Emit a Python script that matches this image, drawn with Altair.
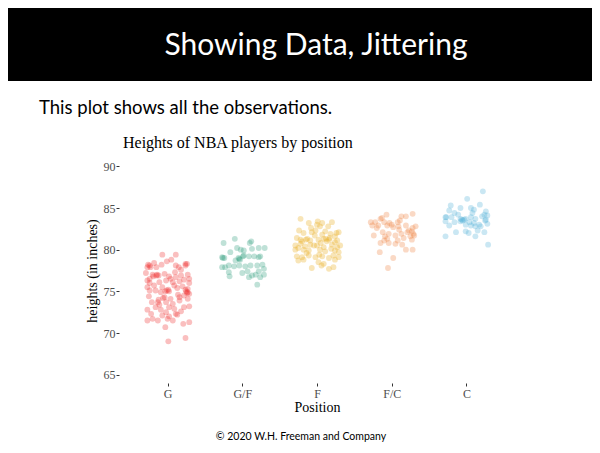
import altair as alt
import pandas as pd

positions = ["G", "G/F", "F", "F/C", "C"]
colors = ["#EE2A2A", "#2A9D7C", "#E8A814", "#EE8240", "#4FB0D8"]

g_off = [-0.07, 0.11, -0.24, -0.23, -0.15, -0.01, 0.05, -0.08, 0.11, 0.24, 0.24, 0.15, 0.18,
         -0.29, -0.14, -0.12, -0.19, -0.04, 0.02, 0.11, 0.18, 0.27, 0.29, -0.27, -0.24, -0.11,
         -0.02, 0.07, 0.16, 0.22, 0.29, -0.27, -0.18, -0.07, -0.01, 0.01, 0.09, 0.13, 0.24, 0.27,
         0.29, -0.24, -0.16, -0.09, -0.04, 0.04, 0.16, 0.22, -0.25, -0.21, -0.13, -0.11, -0.02,
         0.07, 0.16, 0.22, 0.29, 0.27, -0.16, -0.09, 0.02, 0.09, -0.27, -0.22, -0.07, 0.11, 0.13,
         0.02, -0.27, -0.20, -0.13, 0.00, 0.07, 0.21, 0.29, -0.03, 0.01, 0.24,
         -0.26, -0.27, -0.20, -0.15, 0.26, 0.25, 0.27, 0.26, -0.03, 0.02, -0.06, -0.24, 0.20,
         -0.12, 0.10, -0.18, 0.04, 0.14, -0.02, 0.18]
g_h = [79.4, 79.4, 78.1, 77.9, 77.9, 78.6, 78.8, 78.2, 78.1, 78.3, 78.1, 77.9, 77.6,
       77.2, 77.0, 76.9, 76.8, 77.1, 76.8, 76.7, 76.9, 77.0, 76.5, 76.3, 76.0, 76.1,
       76.3, 76.1, 76.2, 76.4, 76.0, 75.5, 75.7, 75.5, 75.1, 75.2, 75.7, 75.4, 75.2, 74.9,
       74.7, 75.1, 75.1, 74.9, 74.3, 74.1, 74.3, 74.5, 74.4, 73.7, 73.7, 73.4, 73.7,
       73.5, 73.9, 73.1, 73.2, 74.1, 73.1, 72.8, 73.1, 72.9, 72.8, 72.3, 72.1, 72.3, 72.2,
       72.0, 71.5, 71.7, 71.5, 71.7, 71.5, 71.1, 71.3, 70.7, 69.0, 69.4,
       78.2, 77.9, 77.0, 76.9, 78.3, 75.0, 75.3, 74.8, 75.0, 75.0, 74.2, 76.5, 75.6,
       74.0, 77.3, 78.4, 76.5, 74.6, 72.5, 72.6]

gf_off = [-0.10, -0.25, 0.12, 0.10, -0.07, -0.02, 0.02, 0.22, 0.30, -0.16, 0.13, -0.27, -0.24,
          0.01, -0.04, 0.09, 0.16, 0.22, 0.24, -0.09, -0.18, -0.23, -0.27, -0.11, -0.04, 0.04,
          0.11, 0.20, 0.27, 0.29, -0.18, -0.17, 0.00, 0.07, 0.13, 0.18, 0.22, 0.29, 0.24, 0.09,
          0.20, -0.26, -0.03, -0.05, 0.02]
gf_h = [81.3, 80.8, 81.0, 80.8, 80.2, 80.0, 79.9, 80.2, 80.2, 79.7, 80.1, 79.1, 79.0,
        79.2, 78.9, 79.2, 79.2, 79.1, 79.2, 78.7, 78.1, 77.9, 77.9, 78.0, 78.1, 78.0,
        78.1, 78.1, 78.2, 77.7, 77.3, 76.8, 77.2, 77.4, 76.9, 77.0, 77.4, 77.0, 76.7, 76.7,
        75.8, 79.0, 78.8, 79.0, 79.3]

f_off = [-0.22, -0.11, 0.01, 0.07, 0.20, 0.15, 0.04, 0.00, -0.24, -0.18, -0.07, -0.02, 0.11,
         0.18, 0.29, 0.24, 0.07, -0.27, -0.22, -0.13, -0.09, 0.02, 0.09, 0.16, 0.13, 0.27, 0.24,
         -0.29, -0.22, -0.16, -0.04, 0.00, 0.09, 0.20, 0.27, 0.31, -0.29, -0.18, -0.11, 0.04,
         0.11, 0.24, 0.29, -0.27, -0.20, -0.11, -0.02, 0.07, 0.16, 0.22, 0.29, -0.25, -0.18,
         0.02, 0.09, 0.24, -0.07, 0.06, 0.16, 0.22,
         -0.20, -0.15, 0.12, 0.17, -0.25, -0.09, 0.05, 0.19, -0.14, 0.03, -0.03, 0.26, -0.08]
f_h = [83.7, 83.2, 83.4, 83.2, 83.3, 82.8, 82.8, 83.0, 82.3, 82.0, 82.1, 82.3, 82.2,
       81.9, 82.1, 81.6, 81.8, 81.4, 81.2, 81.3, 81.1, 81.2, 81.3, 81.2, 81.0, 81.1, 80.9,
       80.5, 80.7, 80.4, 80.5, 80.5, 80.3, 80.6, 80.3, 80.5, 80.0, 80.0, 79.9, 80.0,
       79.8, 79.9, 79.7, 79.2, 79.1, 79.3, 79.1, 79.2, 79.0, 79.3, 79.1, 78.7, 78.8,
       78.5, 78.3, 78.8, 77.8, 78.1, 77.7, 77.9,
       81.0, 81.2, 81.3, 81.4, 80.2, 80.6, 80.8, 80.1, 79.6, 79.4, 81.7, 82.0, 82.6]

fc_off = [-0.07, -0.15, -0.28, -0.22, -0.10, -0.03, 0.08, 0.13, 0.19, 0.28, 0.11, -0.26, -0.18,
          -0.06, 0.02, 0.09, 0.19, 0.28, 0.32, 0.23, -0.24, -0.12, -0.09, -0.04, 0.05, 0.13,
          0.21, 0.25, 0.30, -0.10, -0.06, 0.08, 0.16, 0.27, -0.15, -0.04, 0.05, 0.14, -0.16,
          0.19, 0.28, 0.02, -0.05, 0.27, 0.29, -0.20, 0.00, -0.13, 0.10]
fc_h = [84.2, 83.7, 83.3, 83.3, 83.3, 83.2, 83.3, 84.0, 84.0, 84.3, 83.5, 82.9, 82.9,
        82.9, 82.7, 82.8, 82.9, 82.6, 82.8, 82.3, 81.7, 82.1, 81.6, 81.9, 81.7, 81.9,
        82.1, 81.6, 81.7, 81.1, 81.3, 81.1, 81.4, 81.2, 80.8, 80.8, 80.7, 80.6, 79.7,
        80.0, 80.0, 79.0, 77.8, 82.2, 81.9, 82.6, 83.0, 83.8, 82.4]

c_off = [0.22, 0.01, -0.21, 0.18, -0.08, 0.06, 0.10, -0.23, -0.16, -0.11, 0.08, 0.26, 0.24,
         -0.28, -0.20, -0.08, -0.05, -0.01, 0.06, 0.12, 0.21, 0.28, 0.25, -0.28, -0.16, -0.08,
         0.04, 0.10, 0.17, 0.12, 0.28, -0.23, -0.01, 0.06, 0.19, -0.14, -0.01, 0.03, 0.15,
         0.24, -0.28, 0.12, 0.29, -0.27, -0.06, -0.03, 0.26]
c_h = [87.0, 86.1, 85.3, 85.4, 85.0, 85.0, 84.8, 84.7, 84.4, 84.2, 84.4, 84.6, 84.2,
       83.9, 83.9, 83.7, 83.5, 83.7, 83.9, 83.7, 84.0, 84.1, 83.5, 83.4, 83.3, 83.4,
       83.3, 83.2, 83.0, 82.8, 83.1, 82.9, 83.0, 82.9, 82.8, 82.1, 82.2, 82.0, 82.3,
       82.1, 81.6, 81.6, 80.6, 83.9, 83.6, 83.6, 83.6]

y_ticks = [65, 70, 75, 80, 85, 90]

rows = []
for i, (pos, offs, hs) in enumerate(zip(positions,
                                         [g_off, gf_off, f_off, fc_off, c_off],
                                         [g_h, gf_h, f_h, fc_h, c_h])):
    for o, h in zip(offs, hs):
        rows.append({"position": pos, "xpos": i + 1 + o, "height": h})
df = pd.DataFrame(rows)

label_expr = "[''," + ",".join("'%s'" % p for p in positions) + "][datum.value]"

serif = "Liberation Serif"
sans = "Lato"

points = alt.Chart(df).mark_circle(size=34, opacity=0.3).encode(
    x=alt.X("xpos:Q",
            scale=alt.Scale(domain=[0.35, 5.65], nice=False, zero=False),
            axis=alt.Axis(values=[1, 2, 3, 4, 5], labelExpr=label_expr, title="Position",
                          grid=False, domain=False, ticks=True, tickSize=3, tickColor="#333333",
                          labelFont=serif, labelFontSize=12, labelColor="#4D4D4D",
                          labelPadding=2, titleFont=serif, titleFontSize=14,
                          titleFontWeight="normal", titleColor="#000000", titlePadding=1)),
    y=alt.Y("height:Q",
            scale=alt.Scale(domain=[64, 91], nice=False, zero=False),
            axis=alt.Axis(values=y_ticks, title="heights (in inches)", grid=False,
                          domain=False, ticks=True, tickSize=3, tickColor="#333333",
                          labelFont=serif, labelFontSize=12, labelColor="#4D4D4D",
                          labelPadding=1, titleFont=serif, titleFontSize=14,
                          titleFontWeight="normal", titleColor="#000000", titlePadding=4)),
    color=alt.Color("position:N", scale=alt.Scale(domain=positions, range=colors), legend=None),
)

one = pd.DataFrame({"k": [0]})

header_rect = alt.Chart(one).mark_rect(color="#000000").encode(
    x=alt.value(-150), x2=alt.value(620), y=alt.value(-200), y2=alt.value(-77))

header_text = alt.Chart(one).mark_text(
    text="Showing Data, Jittering", font=sans, fontSize=30, color="#FFFFFF",
    align="center", baseline="alphabetic").encode(x=alt.value(197), y=alt.value(-103))

subtitle = alt.Chart(one).mark_text(
    text="This plot shows all the observations.", font=sans, fontSize=18.5, color="#000000",
    align="left", baseline="alphabetic").encode(x=alt.value(-80), y=alt.value(-44))

chart_title = alt.Chart(one).mark_text(
    text="Heights of NBA players by position", font=serif, fontSize=16, color="#000000",
    align="left", baseline="alphabetic").encode(x=alt.value(4), y=alt.value(-10))

footer = alt.Chart(one).mark_text(
    text="© 2020 W.H. Freeman and Company", font=sans, fontSize=10.5, color="#000000",
    align="center", baseline="alphabetic").encode(x=alt.value(182), y=alt.value(282))

chart = alt.layer(header_rect, header_text, subtitle, chart_title, footer, points).properties(
    width=396, height=225,
    autosize=alt.AutoSizeParams(type="none"),
    padding={"left": 111, "top": 150, "right": 77, "bottom": 60},
    background="#FFFFFF",
).configure_view(strokeWidth=0)

chart.save("out.html", embed_options={"renderer": "svg", "actions": False})
